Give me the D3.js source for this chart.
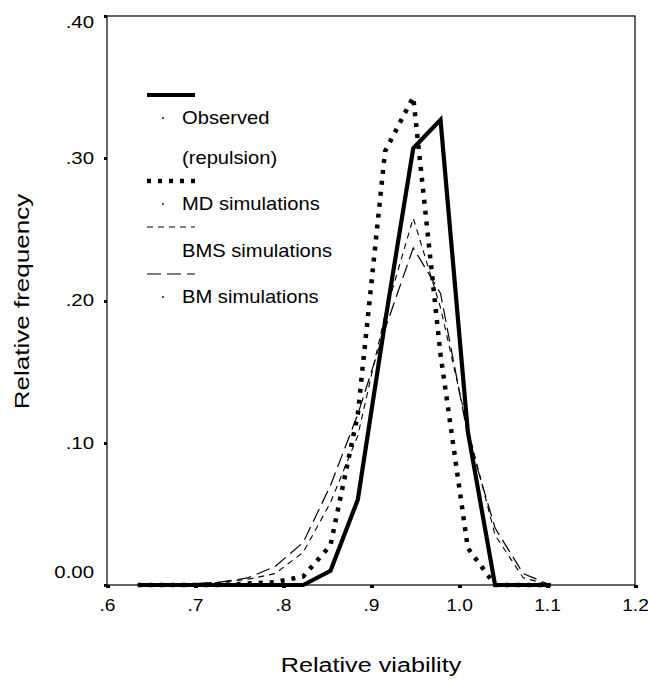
<!DOCTYPE html>
<html lang="en">
<head>
<meta charset="UTF-8">
<title>Relative viability</title>
<script src="https://d3js.org/d3.v7.min.js"></script>
<style>
    body { margin: 0; background: #fff; font-family: "Liberation Sans", Arial, sans-serif; }
    .axis path, .axis line { stroke: #000; shape-rendering: crispEdges; }
    .axis text { font-size: 17px; fill: #000; font-family: "Liberation Sans", Arial, sans-serif; }
    .x-axis text { font-size: 16px; }
    .title { font-size: 21px; fill: #000; }
    .legend text { font-size: 18px; fill: #000; }
</style>
</head>
<body>
<svg width="648" height="680"></svg>
<script>
    // bin centres (relative viability) and relative frequencies
    const viability = [0.635, 0.666, 0.698, 0.729, 0.760, 0.791, 0.823, 0.854, 0.885, 0.916, 0.948, 0.979, 1.010, 1.041, 1.073, 1.104];
    const observed = [0, 0, 0, 0, 0, 0, 0, 0.010, 0.060, 0.185, 0.307, 0.327, 0.108, 0, 0, 0];
    const mdSim = [0, 0, 0, 0, 0.001, 0.002, 0.006, 0.028, 0.120, 0.305, 0.343, 0.162, 0.026, 0, 0, 0];
    const bmsSim = [0, 0, 0, 0.002, 0.004, 0.008, 0.023, 0.058, 0.105, 0.190, 0.258, 0.195, 0.110, 0.035, 0.005, 0];
    const bmSim = [0, 0, 0.001, 0.002, 0.005, 0.013, 0.030, 0.070, 0.120, 0.180, 0.237, 0.205, 0.105, 0.040, 0.008, 0];

    const xTicks = [0.6, 0.7, 0.8, 0.9, 1.0, 1.1, 1.2];
    const xTickLabels = [".6", ".7", ".8", ".9", "1.0", "1.1", "1.2"];
    const yTicks = [0, 0.1, 0.2, 0.3, 0.4];
    const yTickLabels = ["0.00", ".10", ".20", ".30", ".40"];

    const width = 648, height = 680;
    const margin = { top: 16, right: 13, bottom: 95, left: 107 };
    const stretch = 1.2; // the original lettering is wider than Arial

    const svg = d3.select("svg");

    const x = d3.scaleLinear().domain([0.6, 1.2]).range([margin.left, width - margin.right]);
    const y = d3.scaleLinear().domain([0, 0.4]).range([height - margin.bottom, margin.top]);

    // frame
    svg.append("rect")
        .attr("x", x(0.6)).attr("y", y(0.4))
        .attr("width", x(1.2) - x(0.6)).attr("height", y(0) - y(0.4))
        .attr("fill", "none").attr("stroke", "#000").attr("stroke-width", 1.2);

    const xAxis = svg.append("g")
        .attr("class", "axis x-axis")
        .attr("transform", `translate(0,${y(0)})`)
        .call(d3.axisBottom(x).tickValues(xTicks).tickSize(4).tickPadding(11)
            .tickFormat((d, i) => xTickLabels[i]));
    xAxis.select(".domain").remove();
    xAxis.selectAll(".tick line").attr("stroke-width", 4).attr("y1", 0).attr("y2", 3);
    xAxis.selectAll(".tick text").attr("transform", `scale(${stretch},1)`);

    const yAxis = svg.append("g")
        .attr("class", "axis")
        .attr("transform", `translate(${x(0.6)},0)`)
        .call(d3.axisLeft(y).tickValues(yTicks).tickSize(4).tickPadding(8)
            .tickFormat((d, i) => yTickLabels[i]));
    yAxis.select(".domain").remove();
    yAxis.selectAll(".tick line").attr("stroke-width", 3).attr("x1", 0).attr("x2", -3);
    // end labels sit inside the range, like the original
    yAxis.selectAll(".tick text")
        .attr("x", -13 / stretch)
        .attr("transform", `scale(${stretch},1)`)
        .attr("dy", d => d === 0 ? "-0.45em" : d === 0.4 ? "0.65em" : "0.32em");

    // axis titles
    svg.append("text").attr("class", "title")
        .attr("transform", `translate(29,${(y(0) + y(0.4)) / 2 + 1}) rotate(-90) scale(1.24,1)`)
        .attr("text-anchor", "middle")
        .text("Relative frequency");
    svg.append("text").attr("class", "title")
        .attr("transform", `translate(${(x(0.6) + x(1.2)) / 2},672) scale(${stretch},1)`)
        .attr("text-anchor", "middle")
        .text("Relative viability");

    const series = [
        { name: "BM", values: bmSim, width: 1.2, dash: "14,6" },
        { name: "BMS", values: bmsSim, width: 1.1, dash: "6,5" },
        { name: "MD", values: mdSim, width: 4.5, dash: "4,7" },
        { name: "Observed", values: observed, width: 4.2, dash: null }
    ];

    const line = d3.line()
        .x((d, i) => x(viability[i]))
        .y(d => y(d));

    svg.selectAll(".series")
        .data(series)
        .join("path")
        .attr("class", "series")
        .attr("d", d => line(d.values))
        .attr("fill", "none")
        .attr("stroke", "#000")
        .attr("stroke-width", d => d.width)
        .attr("stroke-dasharray", d => d.dash)
        .attr("stroke-linejoin", "miter");

    // legend
    const legend = svg.append("g").attr("class", "legend");
    const legendItems = [
        { sample: 95, width: 4.2, dash: null, labels: [["Observed", 118], ["(repulsion)", 158]], dot: true },
        { sample: 181, width: 4.5, dash: "4,7", labels: [["MD simulations", 204]], dot: true },
        { sample: 227, width: 1.1, dash: "6,5", labels: [["BMS simulations", 251]], dot: false },
        { sample: 274, width: 1.2, dash: "14,6", labels: [["BM simulations", 297]], dot: true }
    ];
    legendItems.forEach(item => {
        legend.append("line")
            .attr("x1", 147).attr("x2", 195)
            .attr("y1", item.sample).attr("y2", item.sample)
            .attr("stroke", "#000")
            .attr("stroke-width", item.width)
            .attr("stroke-dasharray", item.dash);
        if (item.dot) {
            legend.append("circle")
                .attr("cx", 163).attr("cy", item.labels[0][1])
                .attr("r", 0.9).attr("fill", "#000");
        }
        item.labels.forEach(([t, cy]) => {
            legend.append("text")
                .attr("transform", `translate(182,${cy}) scale(1.12,1)`)
                .attr("dominant-baseline", "central")
                .text(t);
        });
    });
</script>
</body>
</html>
